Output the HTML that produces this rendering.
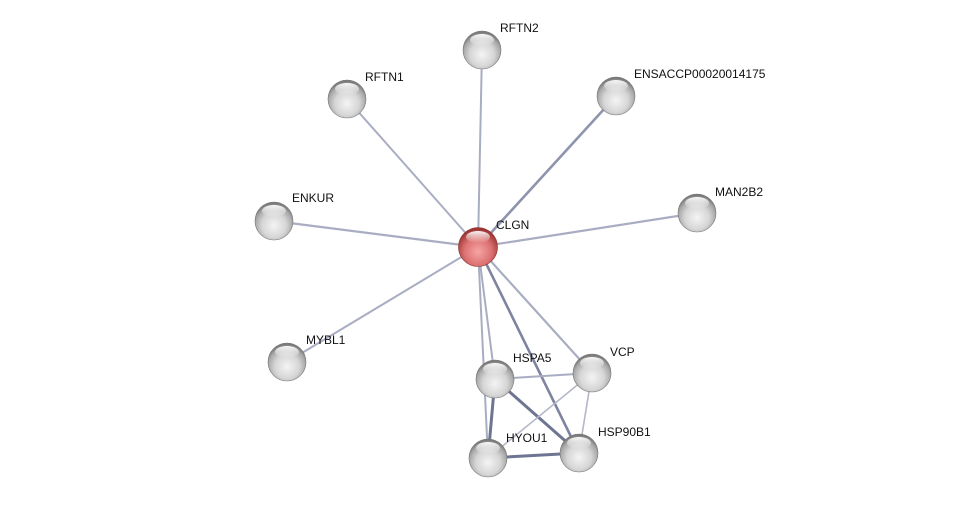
<!DOCTYPE html>
<html><head><meta charset="utf-8"><style>
html,body{margin:0;padding:0;background:#fff;}
svg{display:block;}
text{font-family:"Liberation Sans",sans-serif;font-size:12px;fill:#111;}
</style></head><body>
<svg width="975" height="505" viewBox="0 0 975 505" xmlns="http://www.w3.org/2000/svg">
<defs>
<radialGradient id="g" cx="50%" cy="62%" r="58%">
<stop offset="0" stop-color="#f4f4f4"/><stop offset="0.55" stop-color="#d6d6d6"/><stop offset="0.85" stop-color="#a8a8a8"/><stop offset="1" stop-color="#7a7a7a"/>
</radialGradient>
<radialGradient id="r" cx="50%" cy="62%" r="58%">
<stop offset="0" stop-color="#f5a5a5"/><stop offset="0.6" stop-color="#dd7272"/><stop offset="1" stop-color="#9c3434"/>
</radialGradient>
<linearGradient id="hl" x1="0" y1="0" x2="0" y2="1">
<stop offset="0" stop-color="#fff" stop-opacity="0.95"/><stop offset="1" stop-color="#fff" stop-opacity="0"/>
</linearGradient>
</defs>
<g stroke-linecap="round">
<line x1="478" y1="247" x2="482" y2="50" stroke="#a9adc2" stroke-width="2"/>
<line x1="478" y1="247" x2="347" y2="99" stroke="#a9adc2" stroke-width="2"/>
<line x1="478" y1="247" x2="616" y2="96" stroke="#8e94ad" stroke-width="2.6"/>
<line x1="478" y1="247" x2="274" y2="221" stroke="#a9adc2" stroke-width="2.2"/>
<line x1="478" y1="247" x2="697" y2="213" stroke="#a9adc2" stroke-width="2.2"/>
<line x1="478" y1="247" x2="287" y2="362" stroke="#a9adc2" stroke-width="2"/>
<line x1="478" y1="247" x2="495" y2="379" stroke="#a9adc2" stroke-width="2"/>
<line x1="478" y1="247" x2="488" y2="458" stroke="#a9adc2" stroke-width="2"/>
<line x1="478" y1="247" x2="579" y2="453" stroke="#7e84a0" stroke-width="2.6"/>
<line x1="478" y1="247" x2="592" y2="373" stroke="#a9adc2" stroke-width="2.2"/>
<line x1="495" y1="379" x2="592" y2="373" stroke="#a9adc2" stroke-width="2"/>
<line x1="495" y1="379" x2="488" y2="458" stroke="#6e7591" stroke-width="3"/>
<line x1="495" y1="379" x2="579" y2="453" stroke="#6e7591" stroke-width="3"/>
<line x1="592" y1="373" x2="488" y2="458" stroke="#b3b7c9" stroke-width="1.6"/>
<line x1="592" y1="373" x2="579" y2="453" stroke="#b3b7c9" stroke-width="1.6"/>
<line x1="488" y1="458" x2="579" y2="453" stroke="#6e7591" stroke-width="3"/>
</g>
<g>
<g transform="translate(482,50)"><circle r="19" fill="url(#g)" stroke="#777" stroke-width="0.6"/><ellipse cx="0" cy="-10" rx="12" ry="6" fill="url(#hl)"/></g>
<g transform="translate(347,99)"><circle r="19" fill="url(#g)" stroke="#777" stroke-width="0.6"/><ellipse cx="0" cy="-10" rx="12" ry="6" fill="url(#hl)"/></g>
<g transform="translate(616,96)"><circle r="19" fill="url(#g)" stroke="#777" stroke-width="0.6"/><ellipse cx="0" cy="-10" rx="12" ry="6" fill="url(#hl)"/></g>
<g transform="translate(274,221)"><circle r="19" fill="url(#g)" stroke="#777" stroke-width="0.6"/><ellipse cx="0" cy="-10" rx="12" ry="6" fill="url(#hl)"/></g>
<g transform="translate(697,213)"><circle r="19" fill="url(#g)" stroke="#777" stroke-width="0.6"/><ellipse cx="0" cy="-10" rx="12" ry="6" fill="url(#hl)"/></g>
<g transform="translate(287,362)"><circle r="19" fill="url(#g)" stroke="#777" stroke-width="0.6"/><ellipse cx="0" cy="-10" rx="12" ry="6" fill="url(#hl)"/></g>
<g transform="translate(495,379)"><circle r="19" fill="url(#g)" stroke="#777" stroke-width="0.6"/><ellipse cx="0" cy="-10" rx="12" ry="6" fill="url(#hl)"/></g>
<g transform="translate(592,373)"><circle r="19" fill="url(#g)" stroke="#777" stroke-width="0.6"/><ellipse cx="0" cy="-10" rx="12" ry="6" fill="url(#hl)"/></g>
<g transform="translate(488,458)"><circle r="19" fill="url(#g)" stroke="#777" stroke-width="0.6"/><ellipse cx="0" cy="-10" rx="12" ry="6" fill="url(#hl)"/></g>
<g transform="translate(579,453)"><circle r="19" fill="url(#g)" stroke="#777" stroke-width="0.6"/><ellipse cx="0" cy="-10" rx="12" ry="6" fill="url(#hl)"/></g>
<g transform="translate(478,247)"><circle r="19.5" fill="url(#r)" stroke="#8a3030" stroke-width="0.6"/><ellipse cx="0" cy="-10" rx="12" ry="6" fill="url(#hl)"/></g>
</g>
<text x="500" y="32">RFTN2</text>
<text x="365" y="81">RFTN1</text>
<text x="634" y="78">ENSACCP00020014175</text>
<text x="292" y="202">ENKUR</text>
<text x="715" y="196">MAN2B2</text>
<text x="496" y="229">CLGN</text>
<text x="306" y="344">MYBL1</text>
<text x="513" y="362">HSPA5</text>
<text x="610" y="356">VCP</text>
<text x="506" y="442">HYOU1</text>
<text x="598" y="436">HSP90B1</text>
</svg>
</body></html>
